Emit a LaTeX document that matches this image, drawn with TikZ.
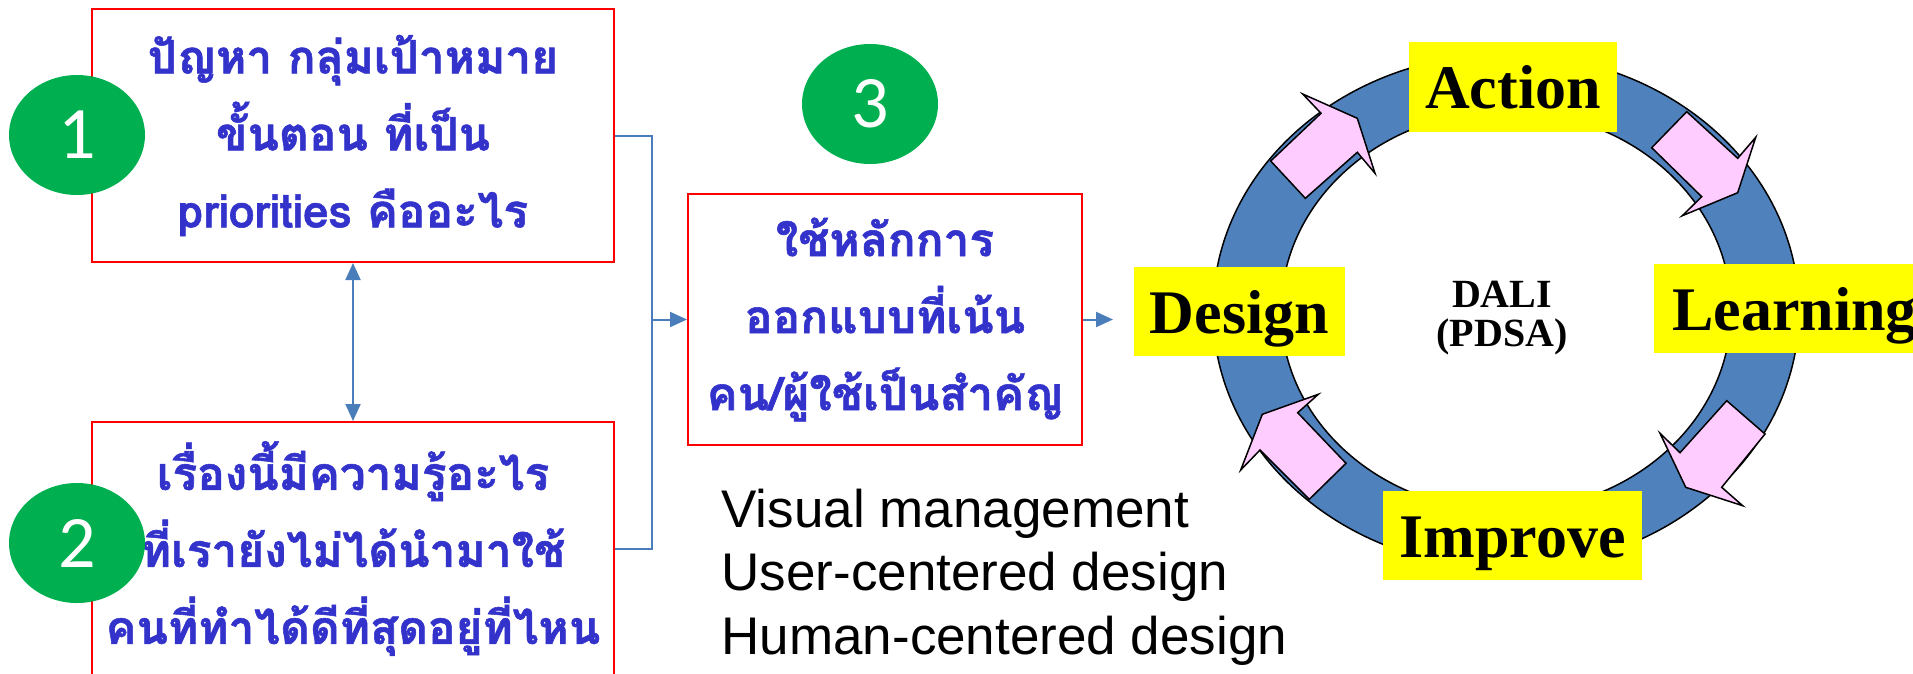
\documentclass[tikz,border=0pt]{standalone}
\usepackage{fontspec}
\setmainfont{Liberation Serif}
\setsansfont{Liberation Sans}
\newfontfamily\thaifont[Script=Thai, BoldFeatures={FakeBold=1.2}]{Loma}
\newfontfamily\numfont{Carlito}
\usetikzlibrary{arrows.meta}
\usetikzlibrary{shapes.geometric}
\definecolor{boxred}{RGB}{255,0,0}
\definecolor{linkblue}{RGB}{74,126,187}
\definecolor{ringblue}{RGB}{79,129,189}
\definecolor{arrowpink}{RGB}{255,204,255}
\definecolor{dotgreen}{RGB}{0,176,80}
\definecolor{thaiblue}{RGB}{51,51,204}
\definecolor{stageyellow}{RGB}{255,255,0}
\tikzset{
    thaibox/.style={draw=boxred, line width=2pt, minimum width=522pt, minimum height=253pt,
        inner sep=0pt, align=center, text=thaiblue,
        font=\thaifont\bfseries\fontsize{46}{77}\selectfont},
    numdot/.style={ellipse, fill=dotgreen, minimum width=136pt, minimum height=120pt,
        inner sep=0pt, text=white, font=\numfont\fontsize{74}{80}\selectfont},
    stagebox/.style={fill=stageyellow, minimum height=89pt, inner sep=0pt,
        text height=43pt, text depth=0pt, font=\bfseries\fontsize{62}{70}\selectfont},
    link/.style={draw=linkblue, line width=2pt},
    linkarrow/.style={link, -{Triangle[length=17pt, width=15pt]}},
    ringline/.style={draw=black, line width=1.5pt},
}
\newcommand{\ringarrow}[7]{
    % #1, #7 = tail corners
    % #2, #6 = shaft meets head
    % #3, #5 = head wings
    % #4 = tip
    \draw[ringline, fill=arrowpink] (#1) -- (#2) -- (#3) -- (#4) -- (#5) -- (#6) -- (#7) -- cycle;
}

\begin{document}
\begin{tikzpicture}[x=1pt, y=-1pt]

    \useasboundingbox (0,0) rectangle (1913,673);

    % left boxes
    \node[thaibox] (need) at (353,135.5) {ปัญหา กลุ่มเป้าหมาย\\ขั้นตอน ที่เป็น\\priorities คืออะไร};
    \node[thaibox] (know) at (353,548.5) {เรื่องนี้มีความรู้อะไร\\ที่เรายังไม่ได้นำมาใช้\\คนที่ทำได้ดีที่สุดอยู่ที่ไหน};
    \node[thaibox, minimum width=394pt, minimum height=251pt] (principle) at (885,319.5) {ใช้หลักการ\\ออกแบบที่เน้น\\คน/ผู้ใช้เป็นสำคัญ};

    \node[numdot] (num1) at (77,135) {1};
    \node[numdot] (num2) at (77,543) {2};
    \node[numdot] (num3) at (870,104) {3};

    % connectors
    \coordinate (join) at (652,319.5);
    \coordinate (out) at (1113,319.5);
    \draw[link] (need.east) -- (need.east -| join) -- (know.east -| join) -- (know.east);
    \draw[linkarrow] (join) -- (principle.west);
    \draw[linkarrow] (principle.east) -- (out);
    \draw[link, {Triangle[length=17pt, width=15pt]}-{Triangle[length=17pt, width=15pt]}] (need.south) -- (know.north);

    \node[anchor=base west, font=\sffamily\fontsize{53}{60}\selectfont] (visual) at (718,527) {Visual management};
    \node[anchor=base west, font=\sffamily\fontsize{53}{60}\selectfont] (user) at (718,590) {User-centered design};
    \node[anchor=base west, font=\sffamily\fontsize{53}{60}\selectfont] (human) at (718,654) {Human-centered design};

    % ring
    \coordinate (hub) at (1506,311);
    \fill[ringblue, even odd rule] (hub) ellipse [x radius=293, y radius=257] (hub) ellipse [x radius=225, y radius=200];
    \draw[ringline] (hub) ellipse [x radius=293, y radius=257];
    \draw[ringline] (hub) ellipse [x radius=225, y radius=200];

    \ringarrow{1270.7,161}{1321,113.3}{1302.7,94}{1357.3,118.3}{1375,173.3}{1357.3,152.3}{1305.3,198.3}
    \ringarrow{1686.7,111.7}{1737.7,158.3}{1755.7,137.3}{1737.7,192.7}{1682.3,215.7}{1701.7,196.7}{1651.7,147.7}
    \ringarrow{1726.7,400.7}{1680,452.7}{1660,433.3}{1685.7,487.3}{1742.7,505.7}{1721.7,487.3}{1765,434}
    \ringarrow{1346,463.3}{1297.7,412.7}{1318.3,394.3}{1262.3,414.3}{1240.7,470}{1260,450}{1309.3,499.3}

    \node[align=center, font=\bfseries\fontsize{40}{39}\selectfont] (dali) at (1502,318) {DALI\\(PDSA)};

    \node[stagebox, minimum width=208pt, minimum height=90pt] (action) at (1513,87) {Action};
    \node[stagebox, minimum width=211pt] (design) at (1239.5,311.5) {Design};
    \node[stagebox, minimum width=281pt] (learning) at (1794.5,308.5) {Learning};
    \node[stagebox, minimum width=259pt] (improve) at (1512.5,535.5) {Improve};

\end{tikzpicture}
\end{document}
